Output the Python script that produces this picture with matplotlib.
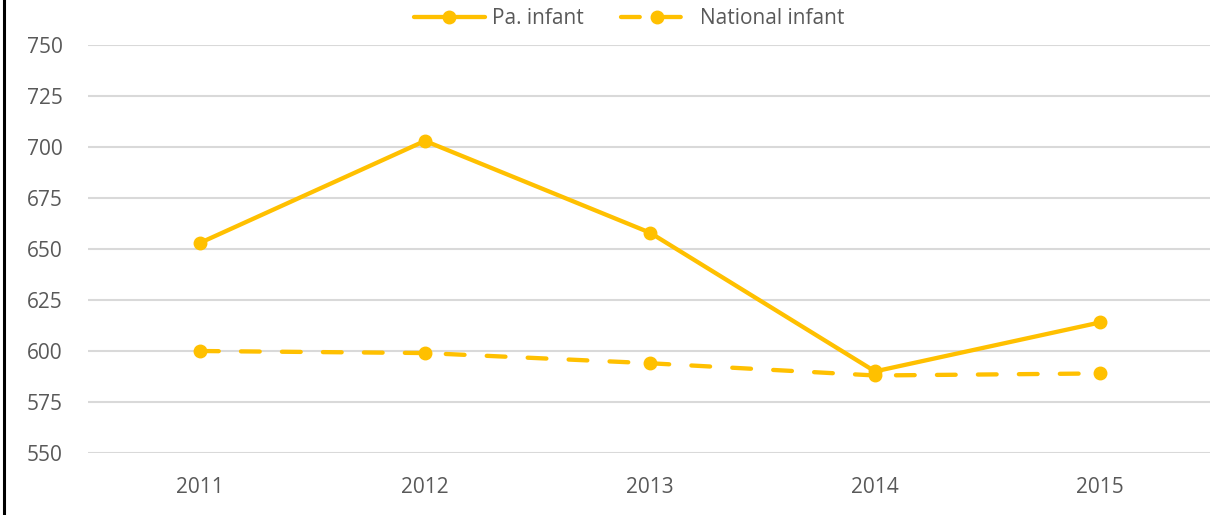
import matplotlib
matplotlib.use("Agg")
import matplotlib.pyplot as plt
from matplotlib.lines import Line2D

years = ["2011", "2012", "2013", "2014", "2015"]
pa_infant = [653, 703, 658, 590, 614]
national_infant = [600, 599, 594, 588, 589]
y_ticks = [550, 575, 600, 625, 650, 675, 700, 725, 750]

plt.rcParams['font.family'] = ['Open Sans', 'DejaVu Sans']
plt.rcParams['lines.scale_dashes'] = False

W, H = 1210, 515
fig = plt.figure(figsize=(W / 100, H / 100), dpi=100)
ax = fig.add_axes([87.5 / W, (H - 453) / H, 1125 / W, 408 / H])

color = "#FFC000"
x = list(range(len(years)))
ax.plot(x, pa_infant, color=color, lw=3.1, marker="o", ms=9,
        solid_capstyle="round", label="Pa. infant", zorder=3)
ax.plot(x, national_infant, color=color, lw=3.1, marker="o", ms=9,
        dashes=(13.5, 16), dash_capstyle="round", label="National infant", zorder=3)

ax.set_xlim(-0.5, 4.5)
ax.set_ylim(550, 750)
ax.set_yticks(y_ticks)
ax.set_xticks(x)
ax.set_xticklabels(years)
ax.grid(axis="y", color="#d9d9d9", lw=1.5)
ax.set_axisbelow(True)
for s in ax.spines.values():
    s.set_visible(False)
ax.tick_params(axis="both", length=0, labelsize=15, labelcolor="#595959")
ax.tick_params(axis="y", pad=18)
ax.tick_params(axis="x", pad=17)

leg = fig.legend(loc="center", bbox_to_anchor=(629 / W, 1 - 19 / H), ncol=2,
                 frameon=False, fontsize=15, handlelength=3.4,
                 columnspacing=1.8, handletextpad=0.35)
for t in leg.get_texts():
    t.set_color("#595959")

fig.add_artist(Line2D([3.5 / W, 3.5 / W], [0, 1], color="black", lw=2.2,
                      transform=fig.transFigure))

fig.savefig("out.png", dpi=100)
